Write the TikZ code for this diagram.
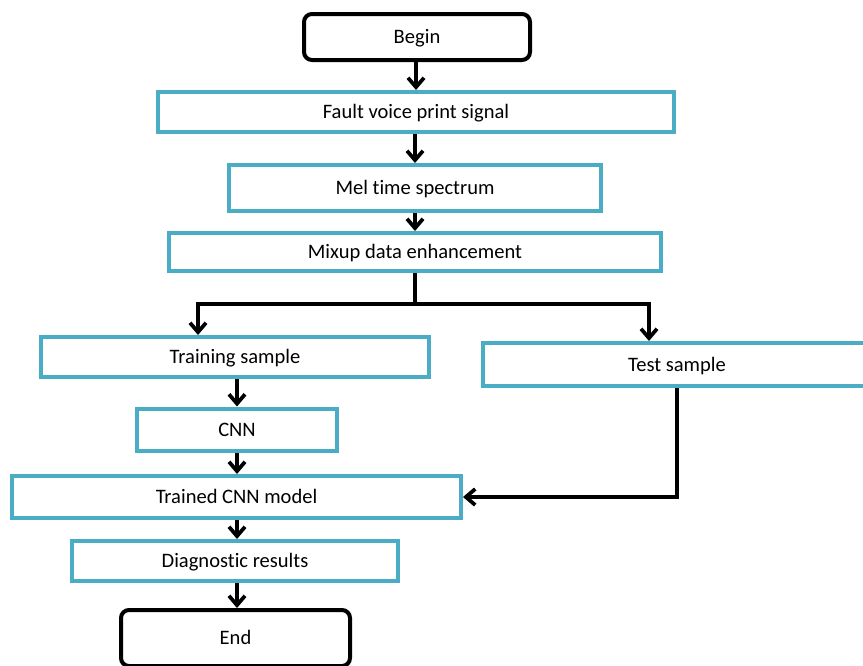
\documentclass[tikz,border=0pt]{standalone}
\usepackage{fontspec}
\setmainfont{Carlito}[Ligatures={NoCommon}]
\usetikzlibrary{arrows.meta}
\definecolor{boxcyan}{HTML}{4BACC6}
\begin{document}
\begin{tikzpicture}[x=0.75pt,y=-0.75pt,
  cbox/.style={draw=boxcyan,line width=3pt,rectangle,inner sep=0pt,fill=white,text height=10pt,text depth=0pt,font=\fontsize{15.4}{18}\selectfont},
  rbox/.style={draw=black,line width=3pt,rectangle,rounded corners=6pt,inner sep=0pt,fill=white,text height=10pt,text depth=0pt,font=\fontsize{15.4}{18}\selectfont},
  arr/.style={draw=black,line width=2.8pt,-{Straight Barb[length=7pt,width=12pt,line width=2.8pt]}},
  ln/.style={draw=black,line width=2.8pt}]
\useasboundingbox (0,0) rectangle (863,665);
\clip (0,0) rectangle (863,665);
\node[rbox,minimum width=169.5pt,minimum height=34.5pt] (begin) at (417,37) {Begin};
\node[cbox,minimum width=387pt,minimum height=30pt] (fault) at (416,112) {Fault voice print signal};
\node[cbox,minimum width=279pt,minimum height=34.5pt] (mel) at (415,188) {Mel time spectrum};
\node[cbox,minimum width=369pt,minimum height=28.5pt] (mix) at (415,252) {Mixup data enhancement};
\node[cbox,minimum width=291pt,minimum height=30pt] (train) at (235,357) {Training sample};
\node[cbox,minimum width=291pt,minimum height=32.25pt] (test) at (677,364.5) {Test sample};
\node[cbox,minimum width=150pt,minimum height=31.5pt] (cnn) at (237,429.5) {CNN};
\node[cbox,minimum width=336.75pt,minimum height=31.5pt] (trained) at (236.5,497) {Trained CNN model};
\node[cbox,minimum width=244.5pt,minimum height=30pt] (diag) at (235,561) {Diagnostic results};
\node[rbox,minimum width=171.75pt,minimum height=42pt] (end) at (235.5,638) {End};
\coordinate (jc) at (415,304);
\coordinate (jl) at (198,304);
\coordinate (jr) at (649,304);
\draw[arr] (begin.south -| fault.north) -- (fault.north);
\draw[arr] (fault.south -| mel.north) -- (mel.north);
\draw[arr] (mel.south) -- (mix.north);
\draw[ln] (mix.south) -- (jc);
\draw[arr] (jc) -| (jl |- train.north);
\draw[arr] (jc) -| (jr |- test.north);
\draw[arr] (test.south) |- (trained.east);
\draw[arr] (cnn.north |- train.south) -- (cnn.north);
\draw[arr] (cnn.south) -- (cnn.south |- trained.north);
\draw[arr] (cnn.south |- trained.south) -- (cnn.south |- diag.north);
\draw[arr] (cnn.south |- diag.south) -- (cnn.south |- end.north);
\end{tikzpicture}
\end{document}
